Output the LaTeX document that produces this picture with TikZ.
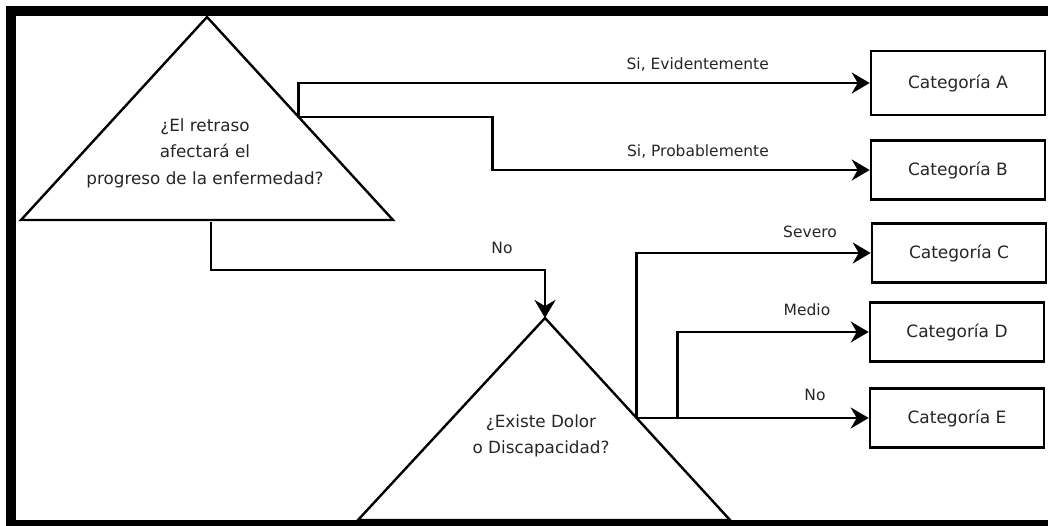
\documentclass[tikz,border=0pt]{standalone}
\usepackage{fontspec}
\setmainfont{DejaVu Sans}
\usetikzlibrary{arrows.meta,calc}
\definecolor{txt}{HTML}{262626}
\begin{document}
\begin{tikzpicture}[x=1pt,y=-1pt,
  conn/.style={line width=2.6pt, line join=miter},
  arr/.style={conn, -{Stealth[length=18pt,width=21pt,inset=6pt]}},
  tri/.style={line width=2.4pt, line join=miter},
  catbox/.style={draw, line width=2.6pt, minimum width=174pt, minimum height=59pt, inner sep=0pt, font=\fontsize{17}{20}\selectfont, text=txt},
  lbl/.style={font=\fontsize{15.5}{20}\selectfont, text=txt, inner sep=0pt},
  qtext/.style={font=\fontsize{16.8}{26.5}\selectfont, text=txt, align=center, inner sep=0pt}]
\useasboundingbox (0,0) rectangle (1048,526);
\fill[white] (0,0) rectangle (1048,526);

% category boxes
\node[catbox, minimum height=64pt] (A) at (958,83) {Categoría A};
\node[catbox] (B) at (958,170) {Categoría B};
\node[catbox] (C) at (959,253) {Categoría C};
\node[catbox] (D) at (957,332) {Categoría D};
\node[catbox] (E) at (957,418) {Categoría E};

% triangle 1
\coordinate (t1a) at (207,17);
\coordinate (t1l) at (21,220);
\coordinate (t1r) at (393,220);
\draw[tri] (t1l) -- (t1a) -- (t1r) -- cycle;
\node[qtext] (q1) at (205,153) {¿El retraso\\afectará el\\progreso de la enfermedad?};

% triangle 2
\coordinate (t2a) at (545,318);
\coordinate (t2l) at (358,520);
\coordinate (t2r) at (730,520);
\draw[tri] (t2l) -- (t2a) -- (t2r) -- cycle;
\node[qtext] (q2) at (541,436) {¿Existe Dolor\\o Discapacidad?};

% connectors from triangle 1
\coordinate (t1b) at ($(t1a)!0.4926!(t1r)$);
\coordinate (bB) at ($(t1b)+(194,0)$);
\draw[arr] (t1b) |- (A.west);
\draw[arr] (t1b) -- (bB) |- (B.west);
\coordinate (n1) at (211,222);
\coordinate (nb) at (211,270);
\draw[arr] (n1) -- (nb) -| (t2a);

% connectors from triangle 2
\coordinate (t2b) at ($(t2a)!0.495!(t2r)$);
\coordinate (mB) at ($(t2b)+(41,0)$);
\draw[arr] (t2b) |- (C.west);
\draw[arr] (mB) |- (D.west);
\draw[arr] (t2b) -- (t2b -| E.west);

% labels
\node[lbl, anchor=east] (l1) at (769,65) {Si, Evidentemente};
\node[lbl, anchor=east] (l2) at (769,152) {Si, Probablemente};
\node[lbl] (l3) at (502,248) {No};
\node[lbl] (l4) at (810,232) {Severo};
\node[lbl] (l5) at (807,310) {Medio};
\node[lbl] (l6) at (815,395) {No};

% frame
\begin{scope}
\clip (0,0) rectangle (1048,526);
\draw[line width=10pt] (11,11) rectangle (1080,525);
\end{scope}
\end{tikzpicture}
\end{document}
